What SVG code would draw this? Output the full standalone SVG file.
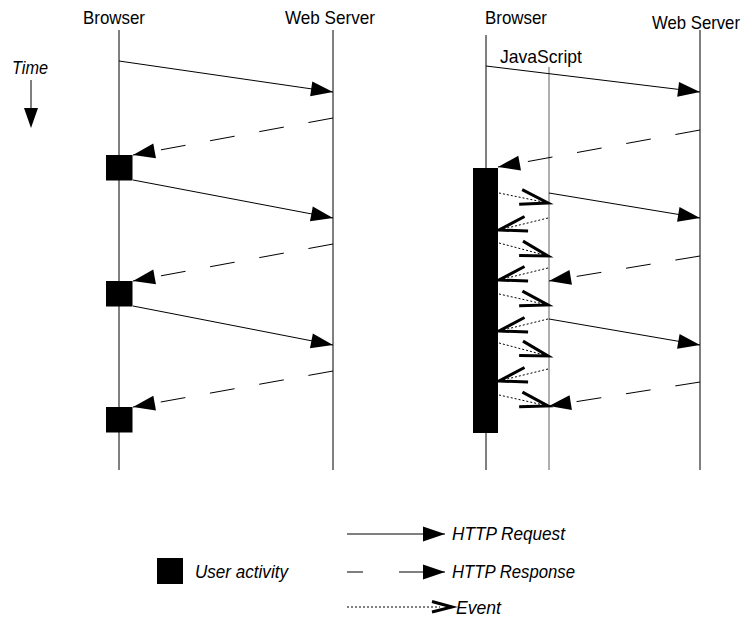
<svg xmlns="http://www.w3.org/2000/svg" width="743" height="620" viewBox="0 0 743 620">
<style>
text{font-family:"Liberation Sans",Arial,sans-serif;font-size:18.5px;fill:#000}
.it{font-style:italic}
.life{stroke:#000;stroke-width:1;fill:none}
.js{stroke:#7a7a7a;stroke-width:1.2;fill:none}
.req{stroke:#000;stroke-width:1;fill:none;marker-end:url(#tri)}
.resp{stroke:#000;stroke-width:1;fill:none;stroke-dasharray:25 25;marker-end:url(#tri)}
.evt{stroke:#000;stroke-width:1;fill:none;stroke-dasharray:2 2;marker-end:url(#vee)}
.act{fill:#000}
</style>
<defs>
<marker id="tri" markerUnits="userSpaceOnUse" orient="auto" markerWidth="30" markerHeight="20" refX="0" refY="0" overflow="visible">
<path d="M-22,-7.5 L0,0 L-22,7.5 Z" fill="#000" stroke="none"/>
</marker>
<marker id="vee" markerUnits="userSpaceOnUse" orient="auto" markerWidth="30" markerHeight="20" refX="0" refY="0" overflow="visible">
<path d="M-28,-8 L0,0 L-28,7" fill="none" stroke="#000" stroke-width="3" stroke-dasharray="none" stroke-linejoin="miter"/>
</marker>
</defs>

<g id="time">
<text class="it" x="12" y="74" textLength="36" lengthAdjust="spacingAndGlyphs">Time</text>
<line x1="31" y1="80" x2="31" y2="110" stroke="#000" stroke-width="1"/>
<path d="M24,108 L38,108 L31,128 Z" fill="#000"/>
</g>

<g id="left-browser">
<text x="83" y="24" textLength="62" lengthAdjust="spacingAndGlyphs">Browser</text>
<line class="life" x1="119" y1="30" x2="119" y2="470"/>
</g>
<g id="left-server">
<text x="285" y="24" textLength="90" lengthAdjust="spacingAndGlyphs">Web Server</text>
<line class="life" x1="333" y1="30" x2="333" y2="470"/>
</g>
<g id="left-activity-1"><rect class="act" x="106" y="155" width="26.5" height="25.5"/></g>
<g id="left-activity-2"><rect class="act" x="106" y="281" width="26.5" height="25.5"/></g>
<g id="left-activity-3"><rect class="act" x="106" y="407" width="26.5" height="25.5"/></g>

<g id="right-browser">
<text x="485" y="24" textLength="62" lengthAdjust="spacingAndGlyphs">Browser</text>
<line class="life" x1="486" y1="35" x2="486" y2="470"/>
</g>
<g id="right-javascript">
<text x="500" y="63" textLength="82" lengthAdjust="spacingAndGlyphs">JavaScript</text>
<line class="js" x1="549" y1="67" x2="549" y2="470"/>
</g>
<g id="right-server">
<text x="652" y="29" textLength="88" lengthAdjust="spacingAndGlyphs">Web Server</text>
<line class="life" x1="700" y1="30" x2="700" y2="470"/>
</g>
<g id="right-activity"><rect class="act" x="473" y="168" width="25" height="265"/></g>

<g id="connectors">
<line class="req" x1="119" y1="61" x2="333" y2="92"/>
<line class="resp" x1="333" y1="118" x2="133" y2="155"/>
<line class="req" x1="133" y1="180" x2="333" y2="218"/>
<line class="resp" x1="333" y1="244" x2="133" y2="281"/>
<line class="req" x1="133" y1="306" x2="333" y2="345"/>
<line class="resp" x1="333" y1="371" x2="133" y2="407"/>

<line class="req" x1="486" y1="66" x2="700" y2="92"/>
<line class="resp" x1="700" y1="130" x2="498" y2="167"/>
<line class="req" x1="549" y1="193" x2="700" y2="218"/>
<line class="resp" x1="700" y1="256" x2="549" y2="281"/>
<line class="req" x1="549" y1="319" x2="700" y2="345"/>
<line class="resp" x1="700" y1="382" x2="549" y2="406"/>

<line class="evt" x1="499" y1="193" x2="548" y2="203"/>
<line class="evt" x1="548" y1="218" x2="499" y2="230"/>
<line class="evt" x1="499" y1="243" x2="548" y2="256"/>
<line class="evt" x1="548" y1="268" x2="499" y2="280"/>
<line class="evt" x1="499" y1="294" x2="548" y2="305"/>
<line class="evt" x1="548" y1="319" x2="499" y2="331"/>
<line class="evt" x1="499" y1="343" x2="548" y2="356"/>
<line class="evt" x1="548" y1="369" x2="499" y2="381"/>
<line class="evt" x1="499" y1="395" x2="548" y2="406"/>
</g>

<g id="legend">
<rect class="act" x="157" y="558" width="26" height="26"/>
<text class="it" x="195" y="578" textLength="93" lengthAdjust="spacingAndGlyphs">User activity</text>
<line class="req" x1="347" y1="534" x2="445" y2="534"/>
<text class="it" x="452" y="540" textLength="113" lengthAdjust="spacingAndGlyphs">HTTP Request</text>
<line x1="347" y1="572" x2="363" y2="572" stroke="#000" stroke-width="1"/>
<line class="req" x1="399" y1="572" x2="445" y2="572"/>
<text class="it" x="452" y="578" textLength="123" lengthAdjust="spacingAndGlyphs">HTTP Response</text>
<line x1="347" y1="607" x2="440" y2="607" stroke="#000" stroke-width="1" stroke-dasharray="2 2"/>
<path d="M432,601.5 L452,607 L432,612" fill="none" stroke="#000" stroke-width="3"/>
<text class="it" x="456" y="614" textLength="45" lengthAdjust="spacingAndGlyphs">Event</text>
</g>
</svg>
